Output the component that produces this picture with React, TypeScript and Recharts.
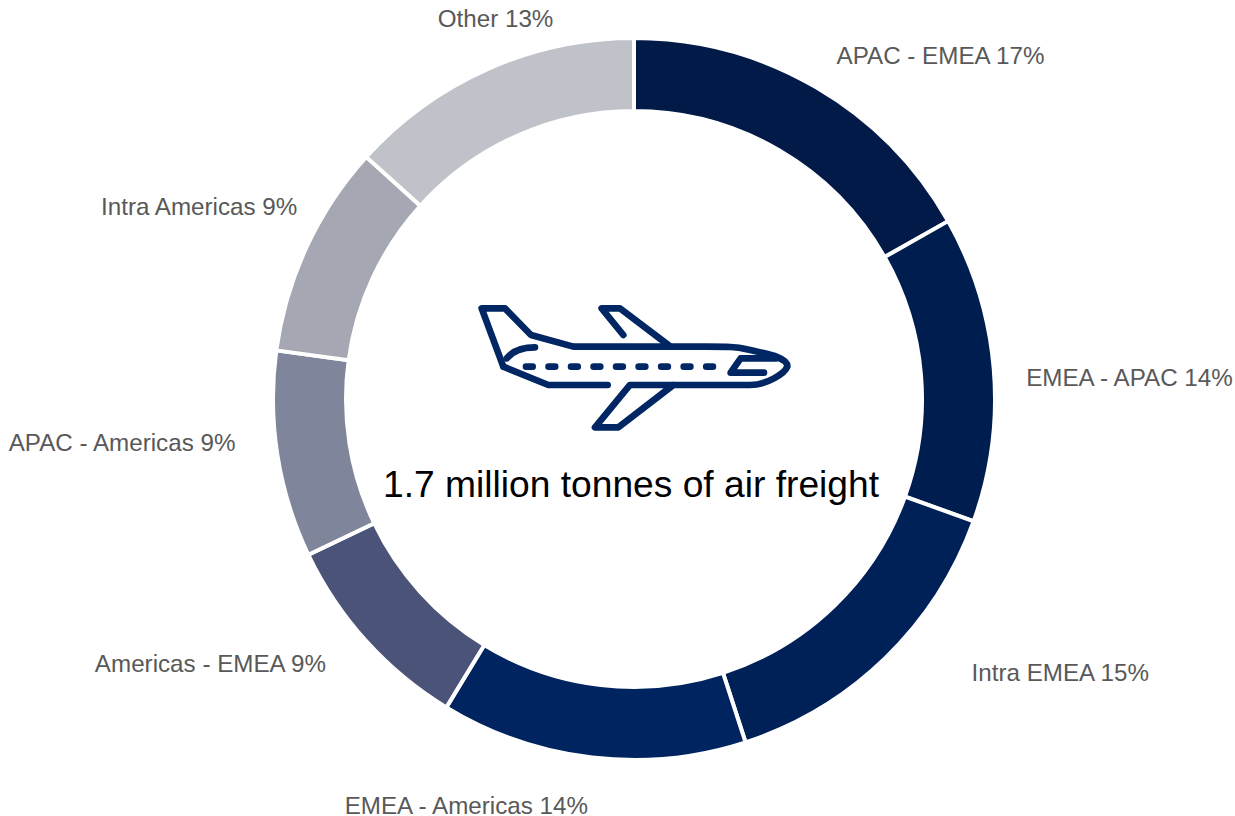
import React from "react";
import { PieChart, Pie, Cell } from "recharts";

const categories = ["APAC - EMEA", "EMEA - APAC", "Intra EMEA", "EMEA - Americas", "Americas - EMEA", "APAC - Americas", "Intra Americas", "Other"];
const sliceSizes = [16.8, 13.7, 14.5, 13.7, 9.2, 9.25, 9.55, 13.3];
const shownPercents = [17, 14, 15, 14, 9, 9, 9, 13];
const colors = ["#011a47", "#001d50", "#002158", "#00245f", "#4c5379", "#7f859b", "#a5a7b3", "#bfc2c9"];
const labelNudgeX = [95, 77, 134, -119, -112, -97, -54, 32];
const labelNudgeY = [19, 14, -28, -11, -17, -22, -15, 3];

const rows = categories.map((name, i) => ({ name, value: sliceSizes[i], shown: shownPercents[i] }));
const FONT = "'Liberation Sans', Arial, sans-serif";
const RAD = Math.PI / 180;

function sliceLabel(p: any) {
  const i = p.index;
  const x = p.cx + 420 * Math.cos(-p.midAngle * RAD) + labelNudgeX[i];
  const y = p.cy + 420 * Math.sin(-p.midAngle * RAD) + labelNudgeY[i];
  return (
    <text key={i} x={x} y={y} textAnchor="middle" dominantBaseline="central" fill="#595959" fontFamily={FONT} fontSize={24.2}>
      {`${rows[i].name} ${rows[i].shown}%`}
    </text>
  );
}

function Plane() {
  return (
    <g transform="translate(460 290) scale(0.3333)" fill="none" stroke="#002663" strokeWidth={20} strokeLinecap="round" strokeLinejoin="round">
      <path d="M130 230 L65 55 L135 55 L213 135 L340 170 L740 170 C800 170 830 170 860 178 C910 190 985 200 982 230 C975 250 920 285 870 285 L510 285 L405 412 L475 412 L640 285" />
      <path d="M130 230 L265 285 L443 285" />
      <path d="M490 135 L425 55 L480 55 L625 165" />
      <path d="M140 205 C160 180 190 172 225 172" />
      <path d="M198 230 L760 230" strokeDasharray="20 47.6" strokeWidth={20} />
      <path d="M912 248 L812 248 L842 205 L950 205" />
    </g>
  );
}

export default function App() {
  return (
    <div style={{ position: "absolute", left: 0, top: 0, width: 1235, height: 816, overflow: "hidden" }}>
      <PieChart width={1235} height={816} margin={{ top: 0, right: 0, bottom: 0, left: 0 }}>
        <Pie
          data={rows}
          dataKey="value"
          nameKey="name"
          cx={634}
          cy={399}
          innerRadius={288}
          outerRadius={361}
          startAngle={90}
          endAngle={-270}
          stroke="#ffffff"
          strokeWidth={4}
          label={sliceLabel}
          labelLine={false}
          isAnimationActive={false}
        >
          {rows.map((r, i) => (
            <Cell key={r.name} fill={colors[i]} />
          ))}
        </Pie>
        <Plane />
        <text x={631} y={484} textAnchor="middle" dominantBaseline="central" fill="#000000" fontFamily={FONT} fontSize={37.2}>
          1.7 million tonnes of air freight
        </text>
      </PieChart>
    </div>
  );
}
